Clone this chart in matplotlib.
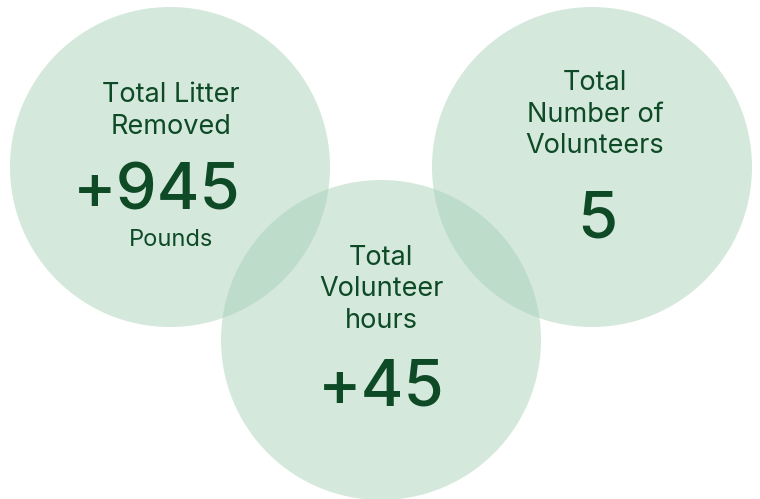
import matplotlib
matplotlib.use("Agg")
import matplotlib.pyplot as plt
from matplotlib.patches import Circle

# Data
titles = [["Total Litter", "Removed"], ["Total", "Volunteer", "hours"], ["Total", "Number of", "Volunteers"]]
values = ["+945", "+45", "5"]
units = ["Pounds", "", ""]

# Layout (pixel space)
centers = [(170, 167), (381, 340), (592, 167)]
radius = 160
title_first_baseline = [102, 265, 90]
title_line_step = 31.5
value_baseline = [210, 405, 237]
value_x = [157, 381, 597]
unit_baseline = [246, None, None]
title_x = [171, 381, 595]

fill_color = "#a7cfb7"
text_color = "#0d4a25"
font = ["Inter", "DejaVu Sans"]

fig = plt.figure(figsize=(7.6, 4.99), dpi=100)
ax = fig.add_axes([0, 0, 1, 1])
ax.set_xlim(0, 760)
ax.set_ylim(499, 0)
ax.set_aspect("equal")
ax.axis("off")

for (cx, cy) in centers:
    ax.add_patch(Circle((cx, cy), radius, facecolor=fill_color, alpha=0.48, edgecolor="none"))

for i in range(3):
    for j, line in enumerate(titles[i]):
        ax.text(title_x[i], title_first_baseline[i] + j * title_line_step, line,
                ha="center", va="baseline", fontsize=19.5, color=text_color,
                family=font)
    ax.text(value_x[i], value_baseline[i], values[i], ha="center", va="baseline",
            fontsize=47, color=text_color, family=font, fontweight="medium")
    if units[i]:
        ax.text(title_x[i], unit_baseline[i], units[i], ha="center", va="baseline",
                fontsize=17, color=text_color, family=font)

fig.savefig("out.png", dpi=100)
